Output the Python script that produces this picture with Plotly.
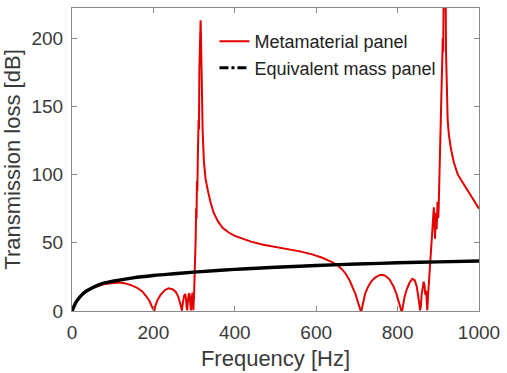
import plotly.graph_objects as go

# Metamaterial panel (red) — frequency [Hz] and transmission loss [dB]
meta_freq = [0, 5, 10, 20, 30, 45, 60, 80, 100, 115, 130, 145, 160, 172, 182, 190, 196, 200, 202,
             205, 210, 218, 228, 237, 247, 255, 261, 266, 269, 270, 272, 275, 278, 280, 282, 283,
             285, 287, 289, 291, 292, 294, 296, 297, 298, 300, 302, 304, 305, 306, 307, 308, 309,
             311, 312, 313, 315, 316, 317, 319, 321, 324, 328, 334, 340, 348, 358, 370, 385, 400,
             415, 440, 470, 500, 530, 560, 590, 615, 635, 650, 662, 672, 682, 690, 697, 702, 706,
             709, 711, 713, 716, 720, 727, 735, 745, 755, 762, 770, 780, 790, 797, 802, 806, 809,
             811, 813, 817, 822, 829, 836, 842, 847, 851, 854, 855, 857, 859, 861, 864, 866, 868,
             870, 872, 873, 875, 877, 879, 881, 883, 885, 887, 889, 891, 892, 894, 896, 898, 900,
             901, 903, 905, 907, 909, 911, 912, 913, 915, 917, 919, 920, 921, 923, 926, 931, 938,
             948, 958, 970, 982, 991, 1000]
meta_tl = [0, 3.5, 6.5, 10.5, 13.3, 16, 18, 19.7, 20.6, 20.8, 20.3, 19, 17, 14.5, 11, 7.5, 3.5, 0.3, 0,
           4, 8, 12, 15.2, 16.7, 16, 14, 10.5, 5.5, 1, 0.3, 5, 11, 12.5, 9, 2, 0.5,
           8, 13, 12, 5, 0.5, 9, 13.5, 6, 0.5, 12, 30, 55, 75, 68, 95, 88, 110,
           140, 133, 178, 205, 213, 200, 155, 132, 110, 97, 88, 80, 72, 66, 61, 57.5, 55,
           53.3, 50.8, 48.5, 47, 45.5, 43.7, 41.5, 39, 36.3, 34, 31, 27.5, 22.5, 17.5, 12, 7, 3,
           0.5, 0, 3, 8, 12.5, 17.5, 21.5, 24.5, 26.2, 26.5, 25.8, 23.2, 18, 12.5, 7, 2.5, 0.5,
           0, 4, 10, 15.5, 20.5, 23.5, 22.5, 18, 11, 4, 0.5, 3, 12, 18, 21.5, 19, 12,
           15, 5, 0.5, 12, 22, 30, 38, 50, 58, 70, 76, 60, 53, 72, 60, 80, 68,
           77, 105, 130, 150, 178, 200, 190, 240, 290, 280, 190, 168, 160, 140, 129, 119, 109,
           100, 95, 89, 83, 79, 75]

# Equivalent mass panel (black)
mass_freq = [0, 5, 10, 20, 30, 50, 70, 100, 150, 200, 250, 300, 400, 500, 600, 700, 800, 900, 1000]
mass_tl = [0, 3.5, 6.5, 10.5, 13.5, 17, 19.7, 21.8, 24.3, 26, 27.3, 28.5, 30.5, 32, 33.3, 34.4, 35.3, 36, 36.6]

x_ticks = [0, 200, 400, 600, 800, 1000]
y_ticks = [0, 50, 100, 150, 200]

FONT = "Arial, Liberation Sans, sans-serif"
TXT = "#3a3a3a"
AX = "#8a8a8a"

fig = go.Figure()
fig.add_trace(go.Scatter(x=meta_freq, y=meta_tl, mode="lines", name="Metamaterial panel",
                         line=dict(color="#e30000", width=2)))
fig.add_trace(go.Scatter(x=mass_freq, y=mass_tl, mode="lines", name="Equivalent mass panel",
                         line=dict(color="black", width=3.4, shape="spline"), showlegend=False))
fig.add_trace(go.Scatter(x=[None], y=[None], mode="lines", name="Equivalent mass panel",
                         line=dict(color="black", width=3, dash="dashdot")))

axis_common = dict(showgrid=False, zeroline=False, showline=True, mirror="ticks",
                   linecolor=AX, linewidth=1, ticks="inside", ticklen=5, tickcolor=AX,
                   tickfont=dict(family=FONT, size=19, color=TXT))

fig.update_layout(
    width=507, height=373,
    margin=dict(l=72, r=23, t=7, b=61),
    paper_bgcolor="white", plot_bgcolor="white",
    font=dict(family=FONT, color=TXT),
    xaxis=dict(range=[0, 1000], tickvals=x_ticks, ticktext=[str(v) for v in x_ticks],
               title=dict(text="Frequency [Hz]", font=dict(family=FONT, size=22, color=TXT), standoff=8),
               ticklabelstandoff=4, **axis_common),
    yaxis=dict(range=[0, 222], tickvals=y_ticks, ticktext=[str(v) for v in y_ticks],
               title=dict(text="Transmission loss [dB]", font=dict(family=FONT, size=22, color=TXT), standoff=6),
               ticklabelstandoff=4, **axis_common),
    legend=dict(x=0.35, y=0.95, xanchor="left", yanchor="top", bgcolor="rgba(255,255,255,0)",
                borderwidth=0, font=dict(family=FONT, size=18, color="#222222"),
                tracegroupgap=0),
    showlegend=True,
)

fig.write_html("out.html")
